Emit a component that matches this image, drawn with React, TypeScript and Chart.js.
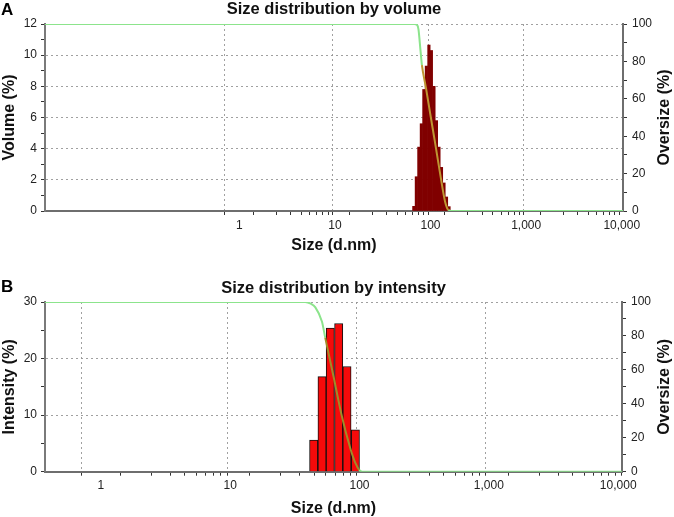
import React, { useEffect, useRef } from 'react';
import { Chart, registerables } from 'chart.js';

Chart.register(...registerables);

const FONT = "'Liberation Sans', Arial, Helvetica, sans-serif";
Chart.defaults.font.family = FONT;

// ---------- Panel A: size distribution by volume ----------
const volumeBarSizes = [66.9, 71.1, 75.5, 80.2, 85.2, 90.5, 96.2, 102.1, 108.6, 115.3, 122.5, 130.2, 138.3, 146.9, 156.1];
const volumePercent = [0.3, 2.2, 4.1, 5.6, 7.8, 9.3, 10.65, 10.3, 8.0, 5.8, 4.1, 2.8, 1.8, 0.9, 0.28];
const volumeCurveSizes = [0.0093, 60, 67.5, 72.5, 74.9, 78.5, 81.3, 89.5, 99.3, 112, 126, 142, 154, 165, 10300];
const volumeOversize = [100, 100, 100, 99.5, 97, 86, 78, 66, 52, 36, 20, 5, 0.5, 0, 0];
const volumeXRange = [0.0093, 10300];
const volumeYMax = 12;

// ---------- Panel B: size distribution by intensity ----------
const intensityBarSizes = [44.2, 51.3, 59.4, 69.0, 80.0, 92.9];
const intensityPercent = [5.6, 16.8, 25.4, 26.2, 18.6, 7.4];
const intensityCurveSizes = [0.37, 38, 42, 45.4, 51.2, 54.3, 63, 73.1, 84.7, 93, 99.5, 105, 10700];
const intensityOversize = [100, 100, 99, 97, 88.5, 79, 56, 32.5, 14, 5, 1, 0, 0];
const intensityXRange = [0.37, 10700];
const intensityYMax = 30;

// ---------- Axis ticks ----------
const xMajorTicks = [1, 10, 100, 1000, 10000];
const xGridTicks = [1, 10, 100, 1000];
const xMinorMultipliers = [2, 3, 4, 5, 6, 7, 8, 9];
const oversizeLabelTicks = [0, 20, 40, 60, 80, 100];

const allXTicks: number[] = [];
xMajorTicks.forEach((m, i) => {
  allXTicks.push(m);
  if (i < xMajorTicks.length - 1) xMinorMultipliers.forEach((k) => allXTicks.push(m * k));
});

const GRID = 'rgba(150,150,150,0.9)';
const CLEAR = 'rgba(0,0,0,0)';
const GREEN = 'rgb(140,228,140)';

const rightTitlePlugin = {
  id: 'rightTitle',
  afterDraw(chart: any, _args: any, opts: any) {
    const { ctx, chartArea } = chart;
    ctx.save();
    ctx.font = `bold 16px ${FONT}`;
    ctx.fillStyle = '#111';
    ctx.textAlign = 'center';
    ctx.textBaseline = 'middle';
    ctx.translate(opts.x, (chartArea.top + chartArea.bottom) / 2);
    ctx.rotate(-Math.PI / 2);
    ctx.fillText(opts.text, 0, 0);
    ctx.restore();
  },
};

type PanelProps = {
  title: string;
  yTitle: string;
  barSizes: number[];
  barValues: number[];
  curveSizes: number[];
  curveValues: number[];
  xRange: number[];
  yMax: number;
  yStep: number;
  yLabelStep: number;
  barColor: string;
  barBorder: string;
  barBorderWidth: number;
  innerColor: string;
  innerFrom: number;
  innerTo: number;
  titlePadTop: number;
  titlePadBottom: number;
  xHeight: number;
  xTitlePad: number;
  rightWidth: number;
  top: number;
};

function Panel(p: PanelProps) {
  const ref = useRef<HTMLCanvasElement>(null);
  useEffect(() => {
    if (!ref.current) return;
    const chart = new Chart(ref.current, {
      type: 'bar',
      data: {
        datasets: [
          {
            type: 'line',
            data: p.curveSizes.map((s, i) => ({ x: s, y: p.curveValues[i] })),
            xAxisID: 'x',
            yAxisID: 'y2',
            borderColor: GREEN,
            borderWidth: 2,
            pointRadius: 0,
            cubicInterpolationMode: 'monotone',
            segment: {
              borderColor: (ctx: any) =>
                ctx.p0.parsed.x >= p.innerFrom && ctx.p1.parsed.x <= p.innerTo ? p.innerColor : undefined,
            },
            order: 1,
          } as any,
          {
            type: 'bar',
            data: p.barSizes.map((s, i) => ({ x: s, y: p.barValues[i] })),
            xAxisID: 'xb',
            yAxisID: 'y',
            backgroundColor: p.barColor,
            borderColor: p.barBorder,
            borderWidth: p.barBorderWidth,
            barPercentage: 1,
            categoryPercentage: 1,
            grouped: false,
            order: 2,
          } as any,
        ],
      },
      options: {
        animation: false,
        responsive: false,
        devicePixelRatio: 1,
        layout: { padding: 0 },
        plugins: {
          legend: { display: false },
          tooltip: { enabled: false },
          title: {
            display: true,
            text: p.title,
            color: '#111',
            font: { size: 16.5, weight: 'bold', lineHeight: 1.2 },
            padding: { top: p.titlePadTop, bottom: p.titlePadBottom },
            fullSize: false,
          },
          rightTitle: { text: 'Oversize (%)', x: 665 },
        } as any,
        scales: {
          x: {
            type: 'logarithmic',
            position: 'bottom',
            min: p.xRange[0],
            max: p.xRange[1],
            afterBuildTicks: (s: any) => {
              s.ticks = allXTicks.map((v) => ({ value: v }));
            },
            afterFit: (s: any) => {
              s.height = p.xHeight;
            },
            ticks: {
              autoSkip: false,
              maxRotation: 0,
              padding: 3,
              color: '#222',
              font: { size: 12 },
              callback: (v: any) => (xMajorTicks.includes(v) ? Number(v).toLocaleString('en-US') : ''),
            },
            grid: {
              color: (ctx: any) => (ctx.tick && xGridTicks.includes(ctx.tick.value) ? GRID : CLEAR),
              lineWidth: 1,
              tickColor: '#333',
              tickWidth: 1,
              tickLength: 4,
            },
            border: { color: '#6e6e6e', width: 2, dash: [2, 3] },
            title: {
              display: true,
              text: 'Size (d.nm)',
              color: '#111',
              font: { size: 16, weight: 'bold', lineHeight: 1 },
              padding: { top: 0, bottom: p.xTitlePad },
            },
          },
          xb: {
            type: 'logarithmic',
            display: false,
            min: p.xRange[0],
            max: p.xRange[1],
            afterBuildTicks: (s: any) => {
              s.ticks = xMajorTicks.map((v) => ({ value: v }));
            },
          },
          y: {
            type: 'linear',
            position: 'left',
            min: 0,
            max: p.yMax,
            afterFit: (s: any) => {
              s.width = 45;
            },
            ticks: {
              stepSize: p.yStep,
              autoSkip: false,
              padding: 4,
              color: '#222',
              font: { size: 12 },
              callback: (v: any) => (v % p.yLabelStep === 0 ? String(v) : ''),
            },
            grid: {
              color: (ctx: any) =>
                ctx.tick && ctx.tick.value > 0 && ctx.tick.value % p.yLabelStep === 0 ? GRID : CLEAR,
              lineWidth: 1,
              tickColor: '#333',
              tickWidth: 1,
              tickLength: 4,
            },
            border: { color: '#7a7a7a', width: 2, dash: [2, 3] },
            title: {
              display: true,
              text: p.yTitle,
              color: '#111',
              font: { size: 16, weight: 'bold', lineHeight: 1 },
              padding: { top: 2, bottom: 0 },
            },
          },
          y2: {
            type: 'linear',
            position: 'right',
            min: 0,
            max: 100,
            afterFit: (s: any) => {
              s.width = p.rightWidth;
            },
            ticks: {
              stepSize: 10,
              autoSkip: false,
              padding: 5,
              color: '#222',
              font: { size: 12 },
              callback: (v: any) => (oversizeLabelTicks.includes(v) ? String(v) : ''),
            },
            grid: {
              drawOnChartArea: false,
              color: '#333',
              tickColor: '#333',
              tickWidth: 1,
              tickLength: 4,
            },
            border: { color: '#6e6e6e', width: 2 },
          },
        } as any,
      },
      plugins: [rightTitlePlugin],
    });
    return () => chart.destroy();
  }, []);
  return (
    <canvas
      ref={ref}
      width={674}
      height={258}
      style={{ position: 'absolute', left: 0, top: p.top, width: 674, height: 258 }}
    />
  );
}

export default function App() {
  return (
    <div style={{ position: 'fixed', left: 0, top: 0, width: 674, height: 517, background: '#fff', fontFamily: FONT }}>
      <Panel
        title="Size distribution by volume"
        yTitle="Volume (%)"
        barSizes={volumeBarSizes}
        barValues={volumePercent}
        curveSizes={volumeCurveSizes}
        curveValues={volumeOversize}
        xRange={volumeXRange}
        yMax={volumeYMax}
        yStep={1}
        yLabelStep={2}
        barColor="rgb(128,0,0)"
        barBorder="rgba(0,0,0,0)"
        barBorderWidth={0}
        innerColor="rgb(190,150,50)"
        innerFrom={81}
        innerTo={155}
        titlePadTop={0}
        titlePadBottom={4.2}
        xHeight={47}
        xTitlePad={4.3}
        rightWidth={51}
        top={0}
      />
      <Panel
        title="Size distribution by intensity"
        yTitle="Intensity (%)"
        barSizes={intensityBarSizes}
        barValues={intensityPercent}
        curveSizes={intensityCurveSizes}
        curveValues={intensityOversize}
        xRange={intensityXRange}
        yMax={intensityYMax}
        yStep={5}
        yLabelStep={10}
        barColor="rgb(245,10,10)"
        barBorder="#111"
        barBorderWidth={1}
        innerColor="rgb(160,140,40)"
        innerFrom={54}
        innerTo={100}
        titlePadTop={19.1}
        titlePadBottom={4.1}
        xHeight={45.3}
        xTitlePad={0.7}
        rightWidth={52}
        top={259}
      />
      <div style={{ position: 'absolute', left: 1, top: 1, fontSize: 17, fontWeight: 'bold', lineHeight: '17px' }}>A</div>
      <div style={{ position: 'absolute', left: 1, top: 278, fontSize: 17, fontWeight: 'bold', lineHeight: '17px' }}>B</div>
    </div>
  );
}
